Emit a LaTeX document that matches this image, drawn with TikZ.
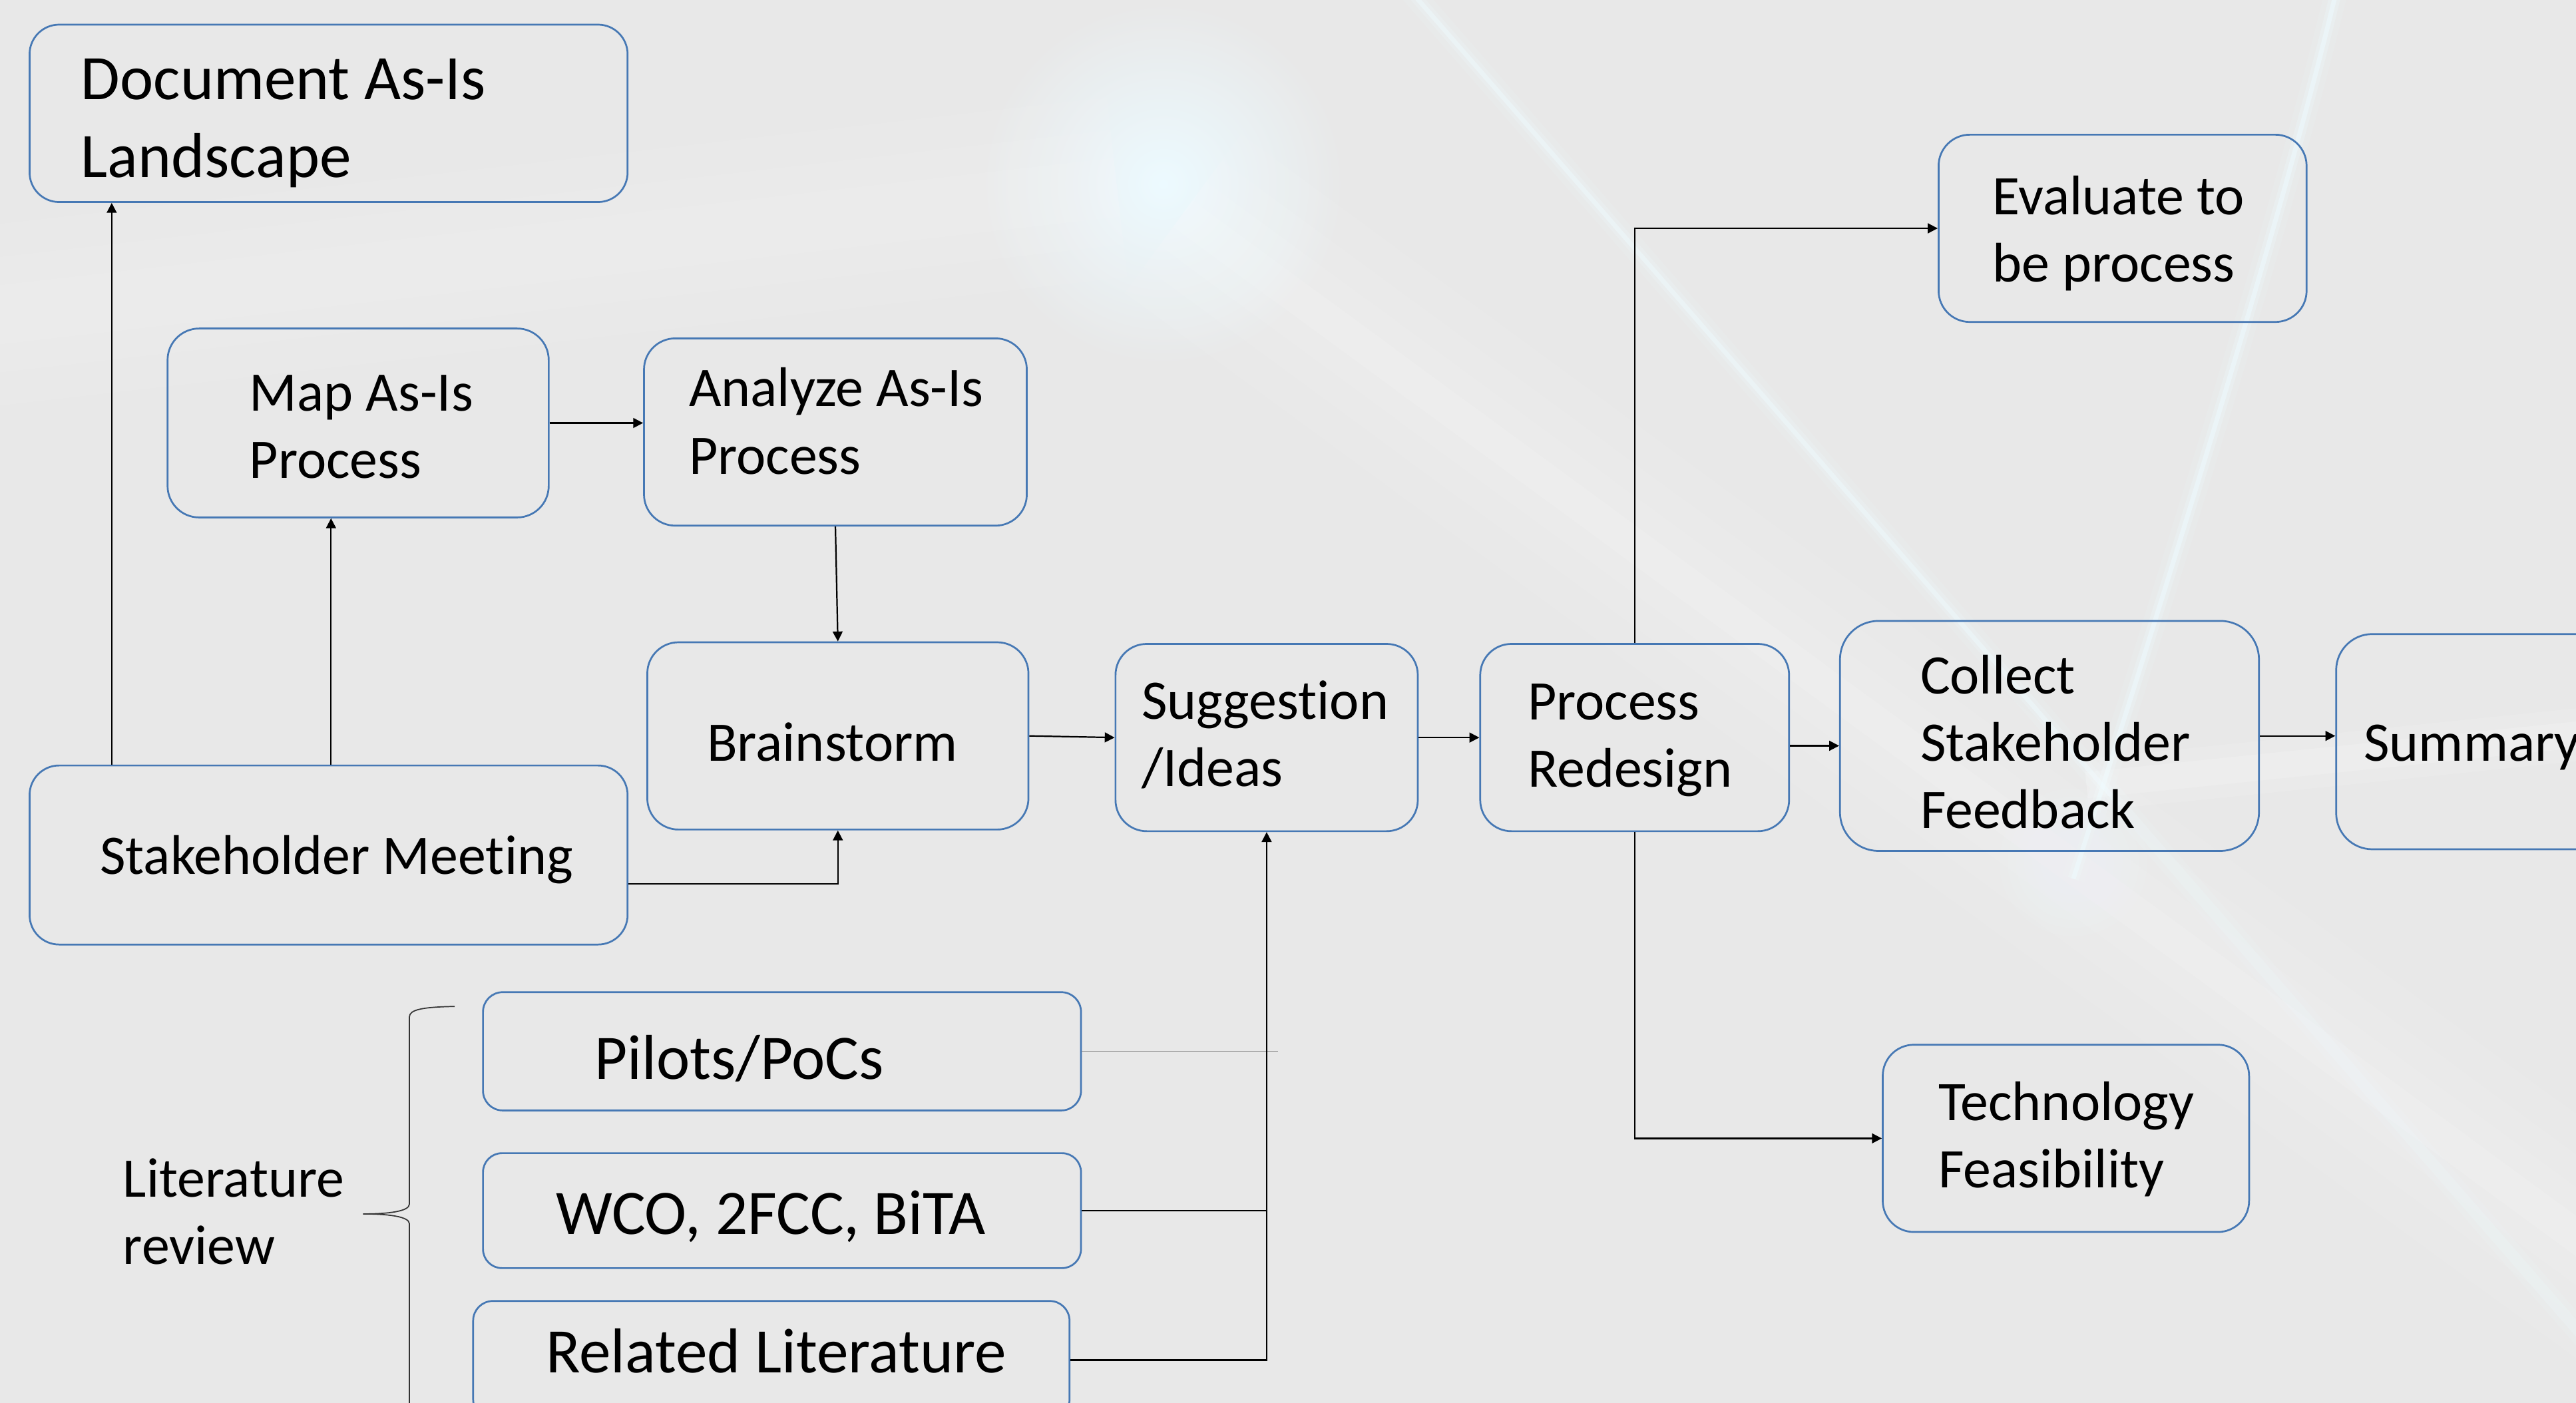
\documentclass[tikz,border=0pt]{standalone}
\usepackage{fontspec}
\setmainfont[Ligatures=NoCommon]{Carlito}
\usetikzlibrary{arrows.meta,calc}
\definecolor{bgc}{RGB}{232,232,232}
\definecolor{glowc}{RGB}{238,251,255}
\definecolor{glowcore}{RGB}{236,250,255}
\definecolor{boxblue}{RGB}{70,120,180}
\tikzset{
 box/.style={draw=boxblue, line width=0.55pt, rectangle, inner sep=0pt},
 txt/.style={anchor=west, align=left, inner sep=0pt, font=\fontsize{17}{20.5}\selectfont},
 bigtxt/.style={txt, font=\fontsize{19.3}{23.75}\selectfont},
 arr/.style={line width=0.45pt, -{Triangle[length=3pt,width=3pt]}},
 conn/.style={line width=0.3pt},
 bracestyle/.style={line width=0.35pt, black!80}
}
\begin{document}
\begin{tikzpicture}[x=0.5pt,y=-0.5pt]
\useasboundingbox (0,0) rectangle (1568,854);
\fill[bgc] (0,0) rectangle (1568,854);
% ---- background light effects
\begin{scope}
\clip (0,0) rectangle (1568,854);
% main glow (radial shade onto plain background)
\shade[inner color=glowcore, outer color=bgc] (708,112) circle [radius=110];
% broad band lower-left
\foreach \w/\o in {80pt/0.035,50pt/0.04,25pt/0.04}
  \draw[white, opacity=\o, line width=\w] (-40,280) -- (900,900);
% broad band upper-left to glow
\foreach \w/\o in {55pt/0.05,35pt/0.06,18pt/0.07}
  \draw[white, opacity=\o, line width=\w] (-30,195) -- (680,114);
% broad band glow to lower right
\foreach \w/\o in {60pt/0.06,40pt/0.07,24pt/0.09,10pt/0.1}
  \draw[white, opacity=\o, line width=\w] (720,130) -- (1660,820);
% thin streak A
\foreach \w/\o in {7pt/0.12,3.5pt/0.2}
  \draw[glowc, opacity=\o, line width=\w] (859,-5) -- (1578,820);
\draw[glowc, opacity=0.45, line width=1.4pt] (859,-5) -- (1290,490);
% thin streak B
\foreach \w/\o in {7pt/0.12,3.5pt/0.25,1.4pt/0.5}
  \draw[glowc, opacity=\o, line width=\w] (1422,-5) .. controls (1385,150) and (1305,400) .. (1262,535);
% band near summary
\foreach \w/\o in {16pt/0.1,8pt/0.15}
  \draw[white, opacity=\o, line width=\w] (1270,478) -- (1600,444);
% glow near feedback box
\foreach \r in {45,40,35,30,25,20,15,10,5}
  \fill[glowc, opacity=0.07] (1262,525) circle [radius=\r];
\end{scope}

% ---- boxes
\node[box, minimum width=182pt, minimum height=54pt, rounded corners=9pt] (doc) at (200,69) {};
\node[box, minimum width=116pt, minimum height=57.5pt, rounded corners=9.6pt] (map) at (218,257.5) {};
\node[box, minimum width=116.5pt, minimum height=57pt, rounded corners=9.5pt] (ana) at (508.5,263) {};
\node[box, minimum width=116pt, minimum height=57pt, rounded corners=9.5pt] (brain) at (510,448) {};
\node[box, minimum width=182pt, minimum height=54.5pt, rounded corners=9pt] (stake) at (200,520.5) {};
\node[box, minimum width=92pt, minimum height=57pt, rounded corners=9.5pt] (sugg) at (771,449) {};
\node[box, minimum width=94pt, minimum height=57pt, rounded corners=9.5pt] (redes) at (995,449) {};
\node[box, minimum width=127.5pt, minimum height=70pt, rounded corners=11.7pt] (coll) at (1247.5,448) {};
\node[box, minimum width=116pt, minimum height=65.5pt, rounded corners=11pt] (summ) at (1538,451.5) {};
\node[box, minimum width=112pt, minimum height=57pt, rounded corners=9.5pt] (eval) at (1292,139) {};
\node[box, minimum width=111.5pt, minimum height=57pt, rounded corners=9.5pt] (tech) at (1257.5,693) {};
\node[box, minimum width=182pt, minimum height=36pt, rounded corners=6pt] (pilots) at (476,640) {};
\node[box, minimum width=182pt, minimum height=35pt, rounded corners=5.8pt] (wco) at (476,737) {};
\node[box, minimum width=181.5pt, minimum height=36pt, rounded corners=6pt] (related) at (469.5,828) {};

% ---- texts
\node[bigtxt] (tdoc) at (49,74.8) {\strut Document As-Is\\Landscape\strut};
\node[txt] (tmap) at (151.5,262.5) {\strut Map As-Is\\Process\strut};
\node[txt] (tana) at (419,259.8) {\strut Analyze As-Is\\Process\strut};
\node[txt] (tbrain) at (430,455) {\strut Brainstorm\strut};
\node[txt] (tstake) at (60.5,524) {\strut Stakeholder Meeting\strut};
\node[txt] (tsugg) at (694.5,450) {\strut Suggestion\\/Ideas\strut};
\node[txt] (tredes) at (929.5,450.5) {\strut Process\\Redesign\strut};
\node[txt] (tcoll) at (1168.5,455) {\strut Collect\\Stakeholder\\Feedback\strut};
\node[txt] (tsumm) at (1438.5,455) {\strut Summary\strut};
\node[txt] (teval) at (1212.5,142.8) {\strut Evaluate to\\be process\strut};
\node[txt] (ttech) at (1179.5,694.5) {\strut Technology\\Feasibility\strut};
\node[txt] (tlit) at (74.5,741) {\strut Literature\\review\strut};
\node[bigtxt] (tpilots) at (361.5,647.5) {\strut Pilots/PoCs\strut};
\node[bigtxt] (twco) at (338,742) {\strut WCO, 2FCC, BiTA\strut};
\node[bigtxt] (trel) at (332,826) {\strut Related Literature\strut};

% ---- connectors
\coordinate (xa) at (68,0);
\coordinate (xb) at (201.5,0);
\coordinate (xc) at (778,0);
\coordinate (ya) at (0,538);
\coordinate (yb) at (0,454);
\draw[arr] (stake.north -| xa) -- (doc.south -| xa);
\draw[arr] (stake.north -| xb) -- (map.south -| xb);
\draw[arr] (stake.east |- ya) -| (brain.south);
\draw[arr] (map.east) -- (map.east -| ana.west);
\draw[arr] (ana.south) -- (brain.north);
\draw[arr] (brain.east) -- (sugg.west);
\draw[arr] (sugg.east) -- (redes.west);
\draw[arr] (redes.east |- yb) -- (coll.west |- yb);
\draw[arr] (coll.east) -- (coll.east -| summ.west);
\draw[arr] (redes.north) |- (eval.west);
\draw[arr] (redes.south) |- (tech.west);
\draw[conn, black!45] (pilots.east) -- (pilots.east -| xc);
\draw[conn, black] (wco.east) -- (wco.east -| sugg.south);
\draw[arr] (related.east) -| (sugg.south);

% ---- brace
\draw[bracestyle] (276.8,612.7) .. controls (258,613) and (249.2,614.5) .. (249.2,619)
  -- (249.2,733) .. controls (249.2,737.5) and (236,739) .. (221,739)
  .. controls (236,739) and (249.2,740.5) .. (249.2,745) -- (249.2,870);
\end{tikzpicture}
\end{document}
